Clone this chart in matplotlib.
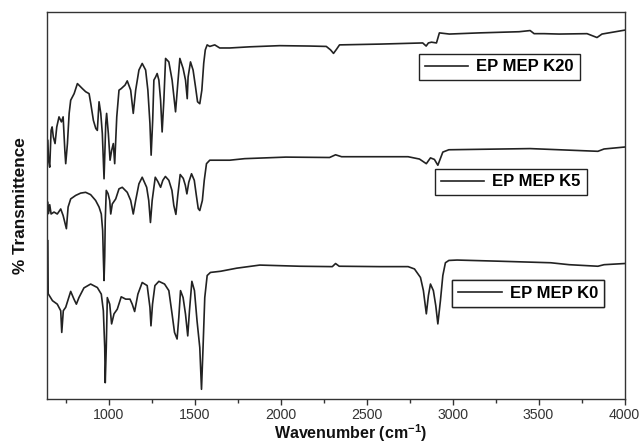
import matplotlib
matplotlib.use("Agg")
import matplotlib.pyplot as plt
from matplotlib.ticker import FixedLocator

plt.rcParams['font.family'] = ['Liberation Sans', 'DejaVu Sans']
plt.rcParams['mathtext.fontset'] = 'custom'
plt.rcParams['mathtext.bf'] = 'Liberation Sans:bold'
plt.rcParams['mathtext.rm'] = 'Liberation Sans'

# ---------------- data ----------------
wn_k0 = [645, 647, 672, 700, 720, 726, 735, 749, 778, 797, 811, 826, 855, 894, 933, 956, 968, 976,
         979, 985, 991, 1005, 1016, 1030, 1049, 1072, 1098, 1123, 1136, 1150, 1169, 1194, 1223, 1239,
         1245, 1254, 1268, 1291, 1324, 1349, 1368, 1382, 1397, 1407, 1417, 1432, 1446, 1459, 1469,
         1483, 1498, 1513, 1529, 1539, 1548, 1558, 1572, 1591, 1650, 1744, 1878, 2110, 2300, 2319,
         2340, 2574, 2741, 2778, 2813, 2830, 2847, 2859, 2871, 2888, 2902, 2914, 2929, 2943, 2958,
         2978, 3026, 3271, 3571, 3678, 3845, 3881, 4000]
t_k0 = [40.9, 27.2, 25.4, 24.5, 22.8, 17.2, 22.8, 23.7, 27.8, 25.8, 24.5, 26.2, 28.7, 29.7, 28.8,
        27.1, 22.8, 13.3, 4.2, 13.3, 26.2, 24.5, 19.4, 22.0, 23.2, 26.4, 25.8, 25.8, 24.5, 22.6,
        27.1, 30.1, 29.3, 23.7, 18.9, 24.5, 29.3, 30.4, 29.7, 28.0, 21.9, 17.2, 15.5, 21.1, 28.0,
        26.2, 21.9, 16.3, 22.8, 30.4, 28.0, 20.2, 13.3, 2.5, 13.3, 26.2, 31.9, 32.7, 33.0, 33.8,
        34.6, 34.3, 34.2, 35.0, 34.3, 34.2, 34.2, 33.6, 31.4, 28.0, 22.0, 26.7, 29.7, 28.0, 24.1,
        19.4, 25.4, 31.9, 35.2, 35.8, 35.9, 35.6, 35.2, 34.7, 34.3, 34.7, 35.0]

wn_k5 = [645, 649, 656, 664, 681, 700, 720, 734, 753, 763, 778, 807, 836, 865, 894, 923, 943, 956,
         964, 968, 972, 976, 979, 985, 995, 1005, 1011, 1020, 1040, 1059, 1078, 1107, 1127, 1142,
         1156, 1175, 1194, 1220, 1232, 1242, 1252, 1270, 1285, 1301, 1314, 1329, 1349, 1367, 1378,
         1390, 1401, 1415, 1433, 1445, 1454, 1465, 1481, 1497, 1509, 1520, 1529, 1544, 1555, 1568,
         1587, 1703, 1790, 2029, 2284, 2319, 2354, 2741, 2807, 2847, 2871, 2894, 2914, 2943, 2978,
         3451, 3845, 3881, 4000]
t_k5 = [50.8, 47.9, 50.2, 47.8, 48.3, 47.8, 49.1, 47.4, 44.0, 49.6, 51.7, 52.6, 53.2, 53.4, 52.8,
        51.3, 49.6, 47.8, 43.5, 36.6, 30.6, 36.8, 46.1, 53.9, 53.1, 51.3, 47.8, 50.4, 51.7, 54.3,
        54.7, 53.4, 51.3, 47.8, 51.3, 55.6, 57.3, 54.7, 51.3, 45.6, 51.3, 57.3, 56.2, 54.7, 56.5,
        57.5, 56.5, 53.9, 50.0, 47.7, 52.6, 58.0, 57.0, 55.2, 53.0, 56.0, 58.2, 56.5, 52.6, 49.2,
        48.7, 51.3, 56.5, 60.8, 61.7, 61.7, 62.1, 62.5, 62.4, 63.1, 62.6, 62.6, 62.0, 60.8, 62.3,
        61.9, 60.4, 63.8, 64.4, 64.7, 64.0, 64.6, 65.1]

wn_k20 = [645, 649, 656, 664, 670, 677, 687, 697, 710, 724, 734, 744, 749, 759, 769, 778, 798, 817,
          846, 865, 885, 895, 910, 924, 933, 943, 953, 962, 972, 982, 987, 997, 1007, 1016, 1026,
          1034, 1046, 1059, 1072, 1084, 1094, 1107, 1127, 1142, 1156, 1175, 1194, 1214, 1227, 1239,
          1246, 1255, 1262, 1272, 1281, 1291, 1301, 1310, 1320, 1330, 1349, 1368, 1388, 1401, 1413,
          1432, 1446, 1456, 1461, 1475, 1490, 1504, 1516, 1529, 1541, 1552, 1561, 1572, 1587, 1616,
          1645, 1703, 1820, 1994, 2168, 2265, 2290, 2307, 2325, 2342, 2574, 2826, 2846, 2859, 2877,
          2906, 2923, 2981, 3155, 3387, 3451, 3474, 3532, 3619, 3782, 3840, 3869, 4000]
t_k20 = [66.8, 61.7, 59.9, 69.4, 70.3, 67.7, 66.0, 70.3, 72.9, 71.6, 72.9, 64.2, 60.8, 66.0, 73.8,
         77.2, 78.9, 81.5, 80.2, 79.4, 78.9, 76.3, 72.0, 69.9, 69.4, 76.8, 73.8, 68.6, 56.9, 71.2,
         73.8, 68.6, 61.7, 64.2, 66.0, 60.8, 72.9, 79.8, 80.2, 80.7, 81.1, 82.2, 79.8, 73.8, 79.8,
         85.0, 86.7, 85.0, 79.8, 71.2, 63.0, 72.0, 82.4, 83.2, 84.1, 82.4, 77.2, 69.0, 77.2, 88.0,
         87.1, 82.4, 74.2, 81.5, 88.0, 85.4, 82.4, 77.6, 83.2, 87.1, 85.0, 80.7, 76.8, 76.3, 79.8,
         86.8, 90.2, 91.5, 91.1, 91.5, 90.7, 90.7, 91.0, 91.3, 91.2, 91.1, 90.2, 89.3, 90.4, 91.5,
         91.7, 92.0, 91.2, 92.0, 92.2, 92.0, 94.6, 94.3, 94.6, 94.9, 95.2, 94.4, 94.4, 94.3, 94.4,
         93.4, 94.3, 95.3]

labels = ["EP MEP K20", "EP MEP K5", "EP MEP K0"]
x_ticks = [1000, 1500, 2000, 2500, 3000, 3500, 4000]
x_minor = [750, 1250, 1750, 2250, 2750, 3250, 3750]

# ---------------- figure ----------------
fig = plt.figure(figsize=(6.4, 4.44), dpi=100)
ax = fig.add_axes([0.0742, 0.1014, 0.9016, 0.8716])

l20, = ax.plot(wn_k20, t_k20, color='#222222', lw=1.2)
l5, = ax.plot(wn_k5, t_k5, color='#222222', lw=1.2)
l0, = ax.plot(wn_k0, t_k0, color='#222222', lw=1.2)

ax.set_xlim(643, 4000)
ax.set_ylim(0, 100)
ax.xaxis.set_major_locator(FixedLocator(x_ticks))
ax.xaxis.set_minor_locator(FixedLocator(x_minor))
ax.tick_params(axis='x', which='major', direction='out', length=4, width=1, labelsize=10.2,
               top=False, pad=2.5, labelcolor='#333333', color='#333333')
ax.tick_params(axis='x', which='minor', direction='out', length=3, width=1, top=False,
               color='#333333')
ax.set_yticks([])
for s in ax.spines.values():
    s.set_linewidth(1.0)
    s.set_color('#333333')

fig.text(0.548, 0.0, 'Wavenumber (cm$^{\\mathbf{-1}}$)', fontsize=11.5, fontweight='bold',
         ha='center', va='bottom', color='#111111')
ax.set_ylabel('% Transmittence', fontsize=12.4, fontweight='bold', labelpad=14, color='#111111')

positions = [(0.783, 0.858), (0.803, 0.561), (0.833, 0.272)]
for line, lab, pos in zip([l20, l5, l0], labels, positions):
    leg = ax.legend([line], [lab], loc='center', bbox_to_anchor=pos, frameon=True,
                    fancybox=False, edgecolor='#222222', framealpha=1,
                    prop={'weight': 'bold', 'size': 12}, handlelength=2.6,
                    borderpad=0.35, handletextpad=0.5, borderaxespad=0)
    leg.get_frame().set_linewidth(1.0)
    ax.add_artist(leg)

fig.savefig('out.png', dpi=100)
